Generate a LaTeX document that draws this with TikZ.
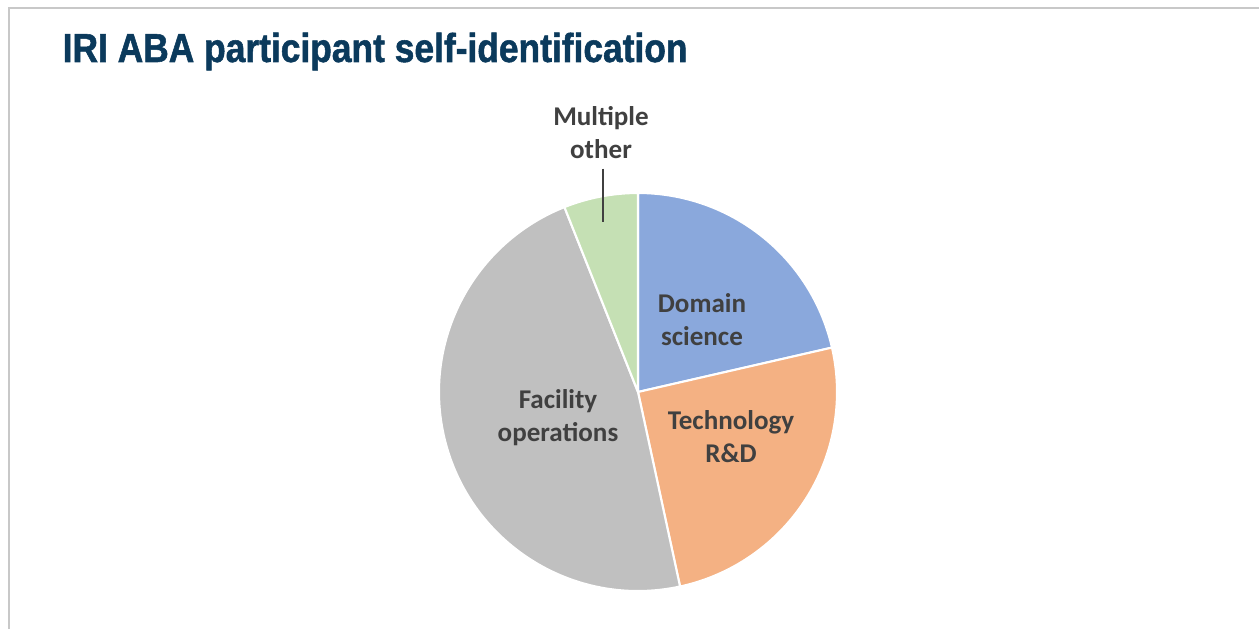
\documentclass[tikz,border=0pt]{standalone}
\usepackage{fontspec}
\setmainfont{Carlito}
\newfontfamily\titlefont[FakeStretch=0.875, FakeBold=1.3]{Liberation Sans}
\usepackage{xcolor}
\usepackage{tikz}
\usetikzlibrary{positioning}

\definecolor{titleblue}{HTML}{0B3A5C}
\definecolor{labelgray}{HTML}{404040}
\definecolor{framegray}{HTML}{C8C8C8}
\definecolor{domainblue}{HTML}{8AA8DC}
\definecolor{techorange}{HTML}{F4B183}
\definecolor{facilitygray}{HTML}{C0C0C0}
\definecolor{othergreen}{HTML}{C5E0B4}

\begin{document}
\begin{tikzpicture}[
  slice/.style={draw=white, line width=0.6pt},
  lbl/.style={font=\bfseries\fontsize{7.7}{9.4}\selectfont, text=labelgray, align=center, inner sep=0pt},
  leader/.style={draw=labelgray, line width=0.5pt}]
\useasboundingbox (0,0) rectangle (12.59,6.29);
% frame of the slide
\draw[framegray, line width=0.6pt] (0.09,0) -- (0.09,6.21) -- (12.59,6.21);
\node (title) [anchor=base west, inner sep=0pt, text=titleblue, font=\titlefont\bfseries\fontsize{11.5}{13}\selectfont] at (0.62,5.67) {IRI ABA participant self-identification};

% pie
\coordinate (c) at (6.38,2.37);
\path[slice, fill=domainblue] (c) -- ++(90:1.99) arc[start angle=90, end angle=12.9, radius=1.99] -- cycle;
\path[slice, fill=techorange] (c) -- ++(12.9:1.99) arc[start angle=12.9, end angle=-77.8, radius=1.99] -- cycle;
\path[slice, fill=facilitygray] (c) -- ++(-77.8:1.99) arc[start angle=-77.8, end angle=-248.3, radius=1.99] -- cycle;
\path[slice, fill=othergreen] (c) -- ++(111.7:1.99) arc[start angle=111.7, end angle=90, radius=1.99] -- cycle;

% labels
\node (domain) [lbl] at (7.02,3.09) {Domain\\science};
\node (tech) [lbl] at (7.31,1.92) {Technology\\R\&D};
\node (facility) [lbl] at (5.58,2.11) {Facility\\operations};
\node (multi) [lbl] at (6.01,4.96) {Multiple\\other};
\coordinate (multitip) at (6.03,4.07);
\draw[leader, shorten <=2.5pt] (multi.south -| multitip) -- (multitip);
\end{tikzpicture}
\end{document}
